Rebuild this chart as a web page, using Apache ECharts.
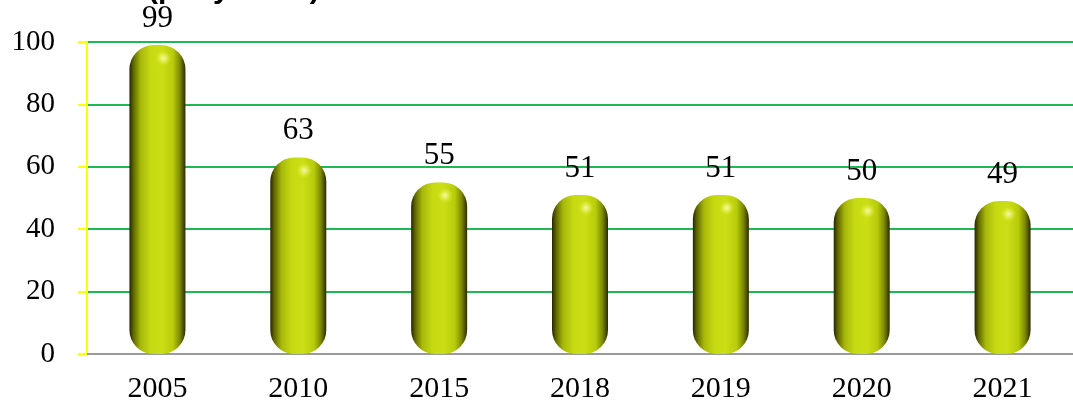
<!DOCTYPE html>
<html>
<head>
<meta charset="utf-8">
<script src="https://cdn.jsdelivr.net/npm/echarts@6/dist/echarts.min.js"></script>
<style>
html,body{margin:0;padding:0;background:#fff;}
#c{width:1073px;height:406px;}
</style>
</head>
<body>
<div id="c"></div>
<script>
var titleText = "(per year in)";
var categories = ["2005","2010","2015","2018","2019","2020","2021"];
var values = [99, 63, 55, 51, 51, 50, 49];
var yTicks = [0, 20, 40, 60, 80, 100];

var chart = echarts.init(document.getElementById('c'), null, {renderer:'canvas'});
var barGrad = new echarts.graphic.LinearGradient(0,0,1,0,[
  {offset:0, color:'#262600'},
  {offset:0.07, color:'#5e6600'},
  {offset:0.2, color:'#a8b80a'},
  {offset:0.38, color:'#c6da12'},
  {offset:0.58, color:'#cbde15'},
  {offset:0.78, color:'#b8cc0c'},
  {offset:0.9, color:'#7d8a00'},
  {offset:1, color:'#2a2a00'}
]);
var hl = new echarts.graphic.RadialGradient(0.5,0.5,0.5,[
  {offset:0, color:'rgba(255,255,215,1)'},
  {offset:0.45, color:'rgba(245,250,120,0.65)'},
  {offset:1, color:'rgba(220,235,40,0)'}
]);
chart.setOption({
  animation:false,
  title:{text:titleText, left:143, top:-30,
    textStyle:{fontFamily:'Liberation Sans', fontWeight:'bold', fontSize:30, color:'#000'}},
  grid:{left:87, right:-13, top:42, bottom:52, containLabel:false},
  xAxis:{type:'category', data:categories,
    axisLine:{lineStyle:{color:'#9a9a9a', width:2}},
    axisTick:{show:false},
    axisLabel:{fontFamily:'Liberation Serif', fontSize:30, color:'#000', margin:20}},
  yAxis:{type:'value', min:yTicks[0], max:yTicks[yTicks.length-1], interval:20,
    axisLine:{show:true, lineStyle:{color:'#ffff00', width:2}},
    axisTick:{show:true, length:9, lineStyle:{color:'#ffff00', width:2}},
    splitLine:{lineStyle:{color:'#1db954', width:2}},
    axisLabel:{fontFamily:'Liberation Serif', fontSize:29, color:'#000', margin:32}},
  series:[{
    type:'bar', data:values, barWidth:56,
    itemStyle:{color:barGrad, borderRadius:24},
    label:{show:true, position:'top', distance:11,
      fontFamily:'Liberation Serif', fontSize:31, color:'#000'}
  },{
    type:'scatter', data:values, symbol:'circle', symbolSize:16,
    symbolOffset:[6,13], z:5, silent:true,
    itemStyle:{color:hl}
  }]
});
</script>
</body>
</html>
